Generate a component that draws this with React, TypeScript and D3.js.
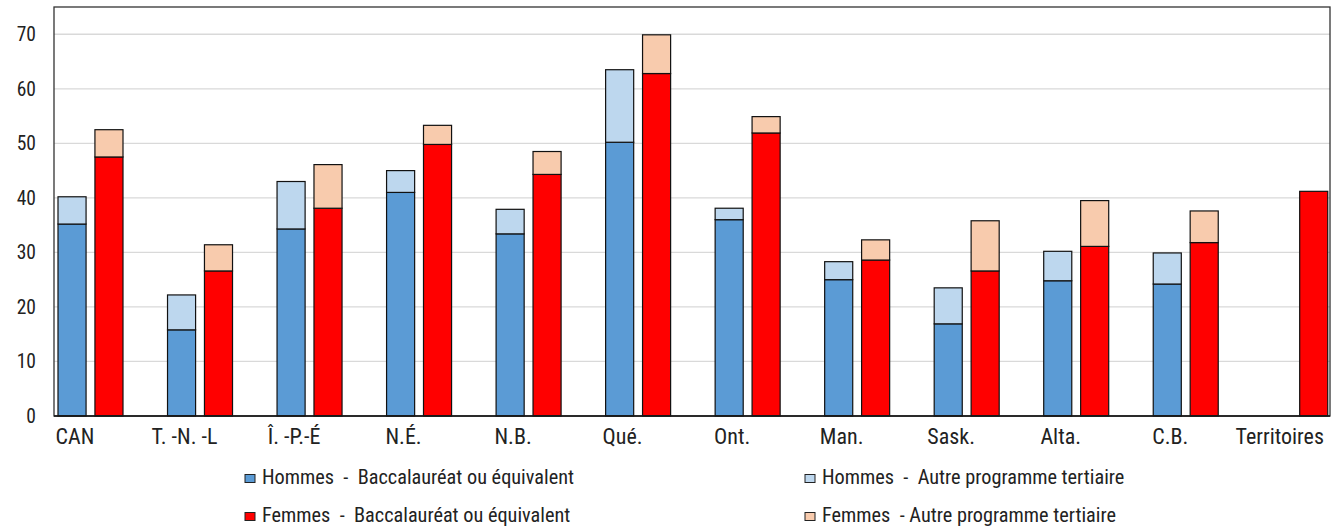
import * as d3 from "d3";
import React from "react";

const categories = ["CAN", "T. -N. -L", "Î. -P.-É", "N.É.", "N.B.", "Qué.", "Ont.", "Man.", "Sask.", "Alta.", "C.B.", "Territoires"];
// Hommes: Baccalauréat + Autre programme tertiaire (stacked)
const hommesBac = [35.2, 15.8, 34.3, 41.0, 33.4, 50.2, 36.0, 25.0, 16.9, 24.8, 24.2, null];
const hommesAutre = [5.0, 6.4, 8.7, 4.0, 4.5, 13.3, 2.1, 3.3, 6.6, 5.4, 5.7, null];
// Femmes
const femmesBac = [47.5, 26.6, 38.1, 49.8, 44.3, 62.8, 51.9, 28.6, 26.6, 31.1, 31.8, 41.2];
const femmesAutre = [5.0, 4.8, 8.0, 3.5, 4.2, 7.1, 3.0, 3.7, 9.2, 8.4, 5.8, null];
const yTicks = [0, 10, 20, 30, 40, 50, 60, 70];

const colors = {
  hBac: "#5B9BD5",
  hAutre: "#BDD7EE",
  fBac: "#FF0000",
  fAutre: "#F8CBAD",
};

const legendItems = [
  { label: "Hommes  -  Baccalauréat ou équivalent", color: colors.hBac, col: 0, row: 0 },
  { label: "Hommes  -  Autre programme tertiaire", color: colors.hAutre, col: 1, row: 0 },
  { label: "Femmes  -  Baccalauréat ou équivalent", color: colors.fBac, col: 0, row: 1 },
  { label: "Femmes  - Autre programme tertiaire", color: colors.fAutre, col: 1, row: 1 },
];

const width = 1333;
const height = 526;
const margin = { left: 54, right: 3, top: 7, bottom: 110 };
const font = "'Liberation Sans Narrow', 'Roboto Condensed', 'Arial Narrow', 'DejaVu Sans Condensed', sans-serif";

export default function App() {
  const innerW = width - margin.left - margin.right;
  const innerH = height - margin.top - margin.bottom;

  const x = d3.scaleBand<string>()
    .domain(categories)
    .range([0, innerW * 1.03]);

  const inner = d3.scaleBand<string>()
    .domain(["H", "F"])
    .range([4, 69])
    .paddingInner(0.24);

  const y = d3.scaleLinear()
    .domain([0, 75])
    .range([innerH, 0]);

  const bw = inner.bandwidth();

  const stack = (
    key: string,
    base: (number | null)[],
    extra: (number | null)[],
    c1: string,
    c2: string
  ) =>
    categories.map((cat, i) => {
      const b = base[i];
      if (b == null) return null;
      const e = extra[i] || 0;
      const x0 = (x(cat) || 0) + (inner(key) || 0);
      return (
        <g key={key + cat}>
          <rect x={x0} y={y(b)} width={bw} height={y(0) - y(b)} fill={c1} stroke="#111" strokeWidth={1.2} />
          {e > 0 && (
            <rect x={x0} y={y(b + e)} width={bw} height={y(b) - y(b + e)} fill={c2} stroke="#111" strokeWidth={1.2} />
          )}
        </g>
      );
    });

  return (
    <svg width={width} height={height} style={{ position: "absolute", left: 0, top: 0, fontFamily: font }}>
      <rect x={0} y={0} width={width} height={height} fill="#fff" />
      <g transform={`translate(${margin.left},${margin.top})`}>
        {yTicks.filter((t) => t > 0).map((t) => (
          <line key={t} x1={0} x2={innerW} y1={y(t)} y2={y(t)} stroke="#D9D9D9" strokeWidth={1.3} />
        ))}
        {yTicks.map((t) => (
          <text key={"yl" + t} x={-18} y={y(t)} dy="0.36em" textAnchor="end" fontSize={19.5} fill="#222">
            {t}
          </text>
        ))}
        <svg x={0} y={0} width={innerW} height={innerH + 2} overflow="hidden">
          {stack("H", hommesBac, hommesAutre, colors.hBac, colors.hAutre)}
          {stack("F", femmesBac, femmesAutre, colors.fBac, colors.fAutre)}
        </svg>
        <rect x={0} y={0} width={innerW} height={innerH} fill="none" stroke="#333" strokeWidth={1.3} />
        <line x1={0} x2={innerW} y1={innerH} y2={innerH} stroke="#111" strokeWidth={1.5} />
        {categories.map((cat) => (
          <text key={"xl" + cat} x={(x(cat) || 0) + 21} y={innerH + 20} dy="0.36em" textAnchor="middle" fontSize={22} fill="#222">
            {cat}
          </text>
        ))}
      </g>
      <g>
        {legendItems.map((d) => {
          const lx = d.col === 0 ? 245 : 805;
          const ly = d.row === 0 ? 477 : 515;
          return (
            <g key={d.label} transform={`translate(${lx},${ly})`}>
              <rect x={0} y={-2.5} width={10} height={8} fill={d.color} stroke="#222" strokeWidth={1} />
              <text x={17} y={0} dy="0.36em" fontSize={20.3} fill="#222" style={{ whiteSpace: "pre" }}>
                {d.label}
              </text>
            </g>
          );
        })}
      </g>
    </svg>
  );
}
